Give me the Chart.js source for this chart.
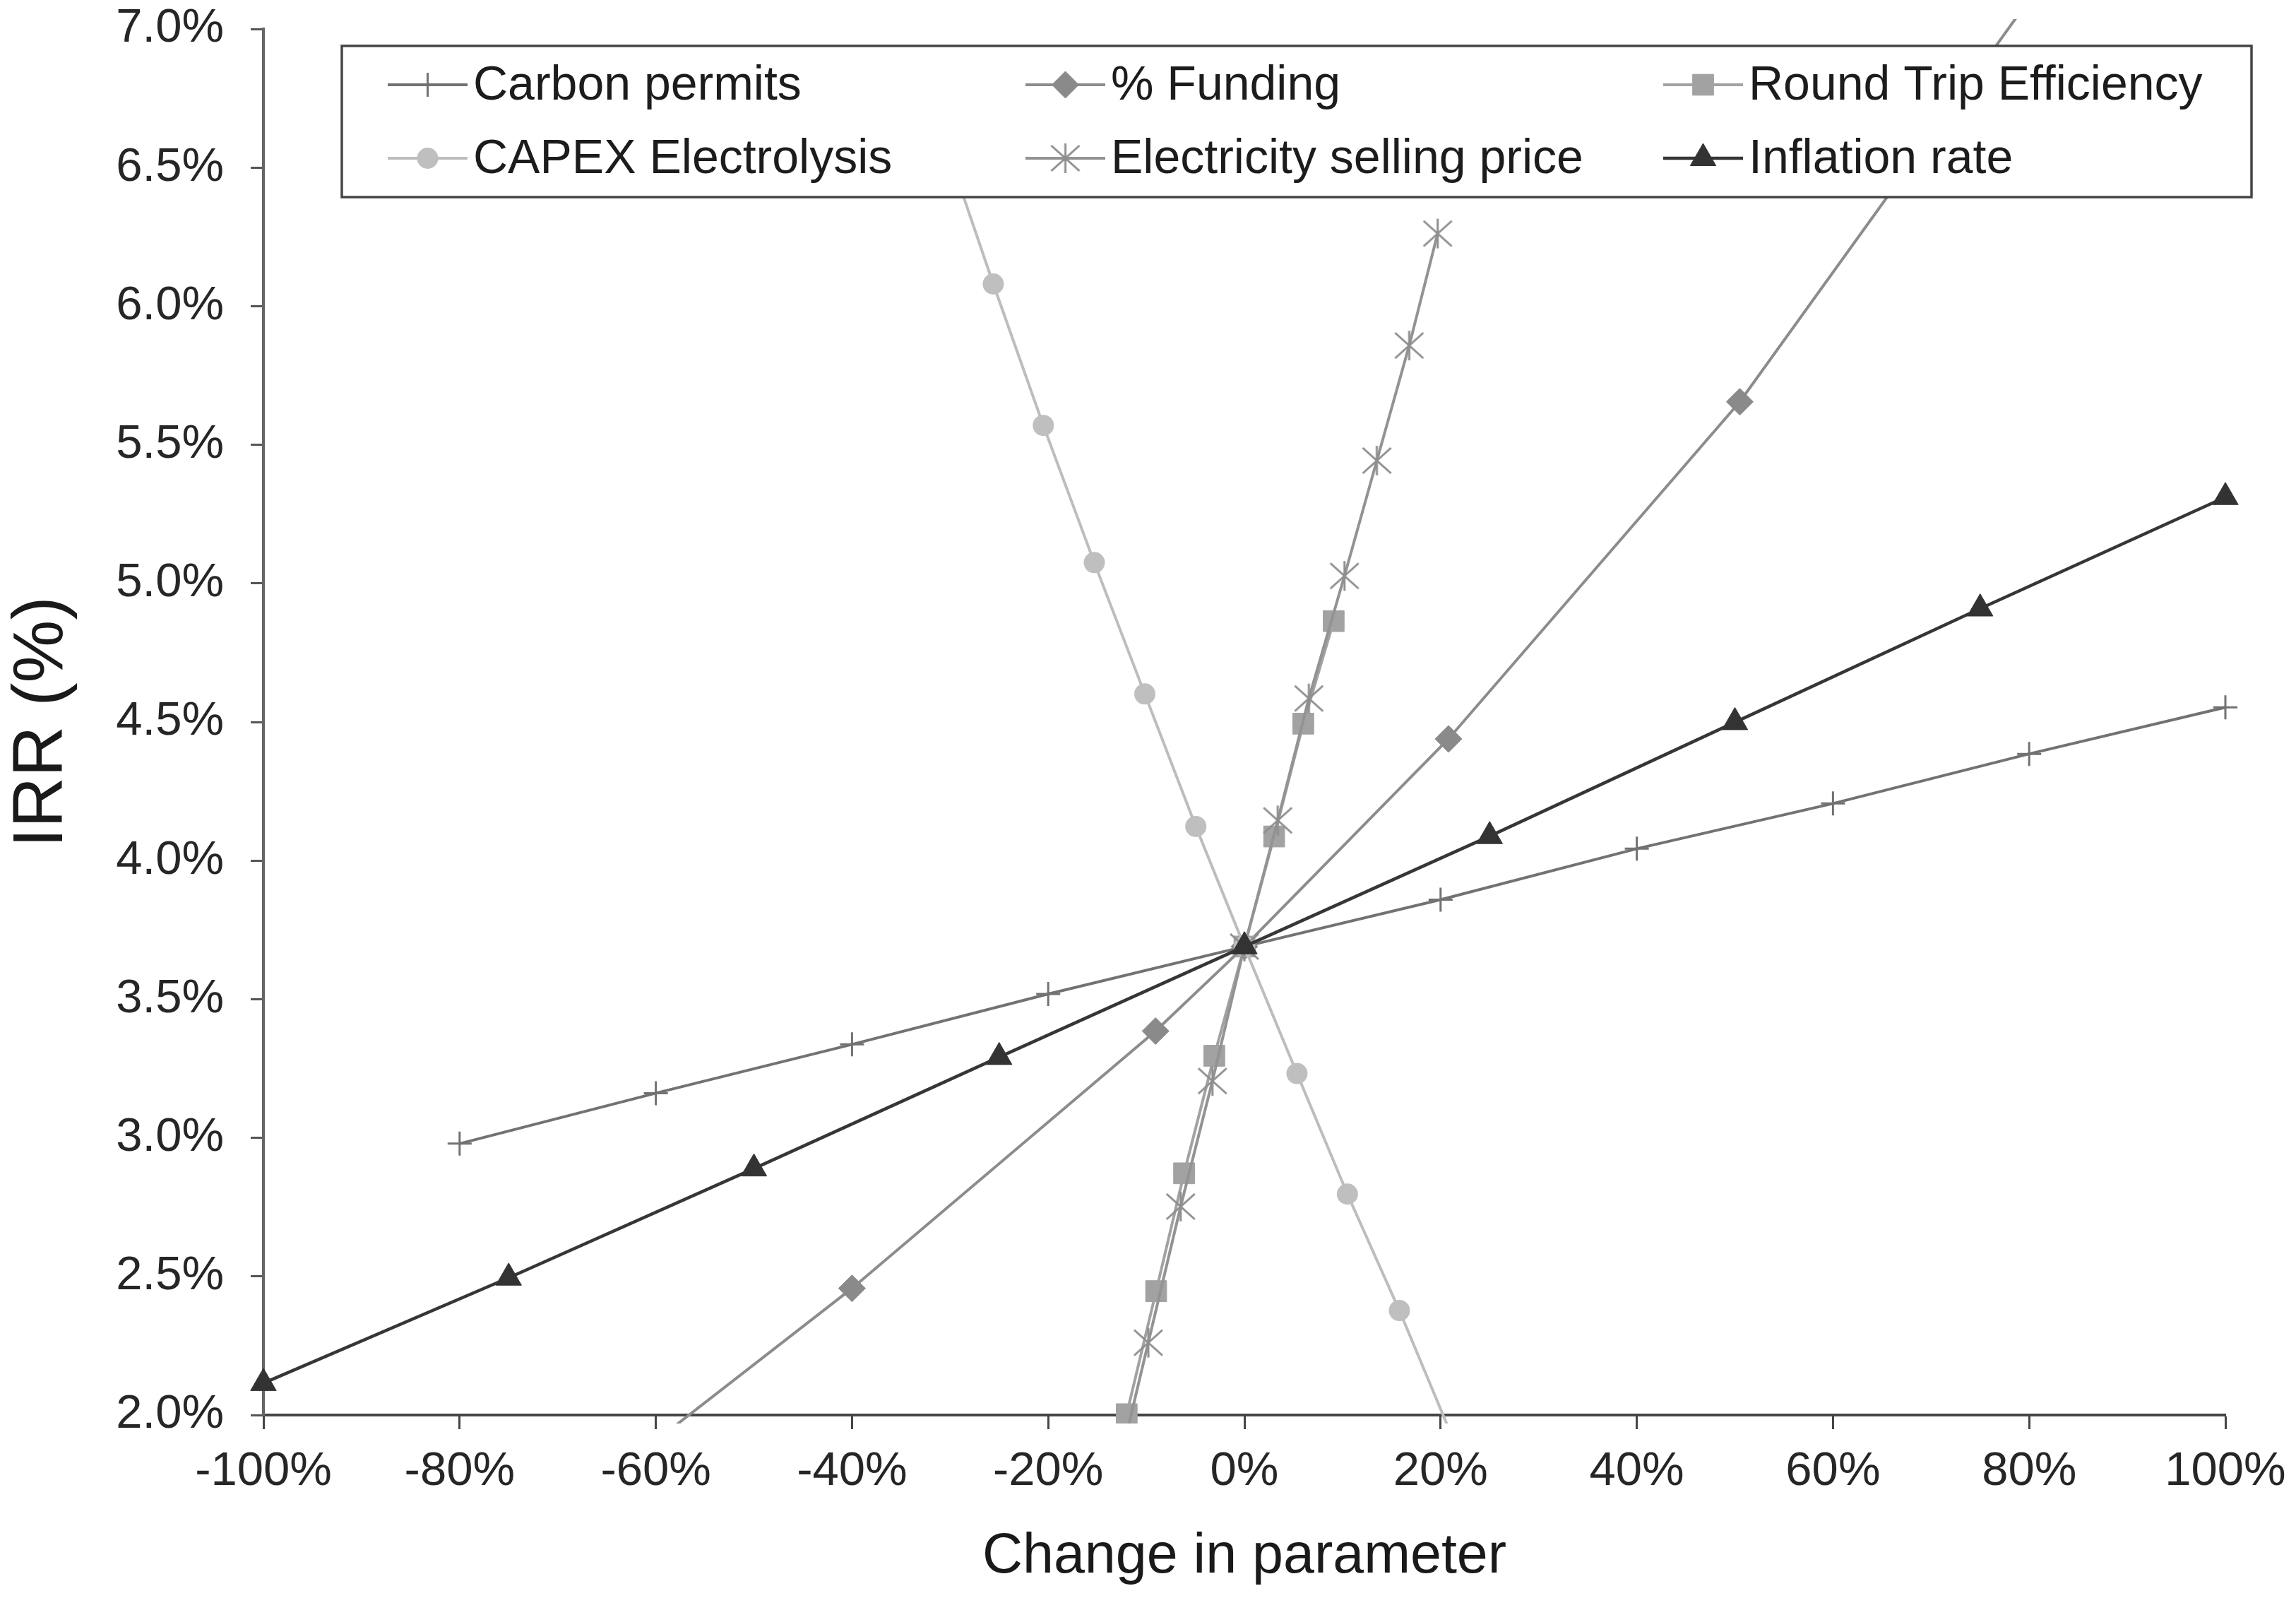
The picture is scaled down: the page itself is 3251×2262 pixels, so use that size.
<!DOCTYPE html>
<html>
<head>
<meta charset="utf-8">
<script src="https://cdn.jsdelivr.net/npm/chart.js@4.4.1/dist/chart.umd.min.js"></script>
<style>
html,body{margin:0;padding:0;background:#ffffff;}
#wrap{width:3251px;height:2262px;position:relative;}
</style>
</head>
<body>
<div id="wrap"><canvas id="c"></canvas></div>
<script>
// ---------- data ----------
const seriesNames = ['Carbon permits', '% Funding', 'Round Trip Efficiency',
                     'CAPEX Electrolysis', 'Electricity selling price', 'Inflation rate'];

const carbonX  = [-80, -60, -40, -20, 0, 20, 40, 60, 80, 100];
const carbonY  = [2.979, 3.161, 3.337, 3.519, 3.69, 3.859, 4.043, 4.206, 4.385, 4.553];

const fundingX = [-60, -40, -9.06, 0, 20.8, 50.5, 80.5];
const fundingY = [1.907, 2.457, 3.385, 3.69, 4.439, 5.655, 7.13];

const rteX     = [-12, -9, -6.15, -3.07, 0, 3.03, 6.0, 9.1];
const rteY     = [2.003, 2.447, 2.872, 3.296, 3.69, 4.087, 4.494, 4.864];

const capexX   = [-30.8, -25.6, -20.5, -15.3, -10.15, -4.95, 0, 5.36, 10.5, 15.8, 21.2];
const capexY   = [6.62, 6.08, 5.57, 5.075, 4.601, 4.123, 3.69, 3.232, 2.797, 2.377, 1.92];

const espX     = [-13.1, -9.8, -6.5, -3.26, 0, 3.4, 6.57, 10.2, 13.5, 16.8, 19.7];
const espY     = [1.77, 2.261, 2.752, 3.205, 3.69, 4.145, 4.585, 5.027, 5.443, 5.858, 6.262];

const inflX    = [-100, -75, -50, -25, 0, 25, 50, 75, 100];
const inflY    = [2.115, 2.495, 2.889, 3.291, 3.69, 4.088, 4.499, 4.909, 5.311];

const xTickValues = [-100, -80, -60, -40, -20, 0, 20, 40, 60, 80, 100];
const xTickLabels = ['-100%', '-80%', '-60%', '-40%', '-20%', '0%', '20%', '40%', '60%', '80%', '100%'];
const yTickValues = [2.0, 2.5, 3.0, 3.5, 4.0, 4.5, 5.0, 5.5, 6.0, 6.5, 7.0];
const yTickLabels = ['2.0%', '2.5%', '3.0%', '3.5%', '4.0%', '4.5%', '5.0%', '5.5%', '6.0%', '6.5%', '7.0%'];

const xTitle = 'Change in parameter';
const yTitle = 'IRR (%)';

// ---------- styling ----------
const FONT = '"Liberation Sans", Arial, Helvetica, sans-serif';

function makeAsterisk(color) {
  const c = document.createElement('canvas');
  c.width = 46; c.height = 44;
  const g = c.getContext('2d');
  g.strokeStyle = color; g.lineWidth = 3; g.lineCap = 'butt';
  g.beginPath();
  g.moveTo(23, 1); g.lineTo(23, 43);
  g.moveTo(3, 4); g.lineTo(43, 40);
  g.moveTo(43, 4); g.lineTo(3, 40);
  g.stroke();
  return c;
}
const asterisk = makeAsterisk('#8e8e8e');

function pts(xs, ys) { return xs.map((x, i) => ({x: x, y: ys[i]})); }

const clipBox = {left: 30, top: 14, right: 30, bottom: 12};

const datasets = [
  {label: seriesNames[0], data: pts(carbonX, carbonY), borderColor: '#727272', backgroundColor: '#727272',
   borderWidth: 4, pointStyle: 'cross', pointRadius: 17, pointBorderWidth: 3, order: 6},
  {label: seriesNames[1], data: pts(fundingX, fundingY), borderColor: '#8c8c8c', backgroundColor: '#8a8a8a',
   borderWidth: 4, pointStyle: 'rectRot', pointRadius: 19, pointBorderWidth: 1, order: 5},
  {label: seriesNames[2], data: pts(rteX, rteY), borderColor: '#a2a2a2', backgroundColor: '#a2a2a2',
   borderWidth: 4, pointStyle: 'rect', pointRadius: 21, pointBorderWidth: 1, order: 4},
  {label: seriesNames[3], data: pts(capexX, capexY), borderColor: '#bdbdbd', backgroundColor: '#bfbfbf',
   borderWidth: 4, pointStyle: 'circle', pointRadius: 14, pointBorderWidth: 2, order: 3},
  {label: seriesNames[4], data: pts(espX, espY), borderColor: '#939393', backgroundColor: '#939393',
   borderWidth: 4, pointStyle: asterisk, pointRadius: 20, pointBorderWidth: 3, order: 2},
  {label: seriesNames[5], data: pts(inflX, inflY), borderColor: '#363636', backgroundColor: '#333333',
   borderWidth: 4.5, pointStyle: 'triangle', pointRadius: 21, pointBorderWidth: 1, order: 1}
].map(d => Object.assign(d, {
  showLine: true, fill: false, tension: 0, clip: clipBox,
  pointBackgroundColor: d.backgroundColor, pointBorderColor: d.backgroundColor
}));

// ---------- legend drawn inside the plot ----------
const legendBox = {x: 484, y: 65, w: 2704, h: 214};
const legendTextX = [670, 1573, 2476];
const legendRowY = [120, 224];

function drawMarker(ctx, ds, x, y) {
  ctx.fillStyle = ds.pointBackgroundColor;
  ctx.strokeStyle = ds.pointBorderColor;
  ctx.lineWidth = ds.pointBorderWidth;
  if (window.Chart && Chart.helpers && Chart.helpers.drawPoint) {
    Chart.helpers.drawPoint(ctx, {pointStyle: ds.pointStyle, rotation: 0,
      radius: ds.pointRadius, borderWidth: ds.pointBorderWidth}, x, y);
  } else if (typeof ds.pointStyle === 'object') {
    ctx.drawImage(ds.pointStyle, x - ds.pointStyle.width / 2, y - ds.pointStyle.height / 2);
  } else {
    ctx.beginPath(); ctx.arc(x, y, ds.pointRadius, 0, Math.PI * 2); ctx.fill();
  }
}

const boxLegend = {
  id: 'boxLegend',
  afterDatasetsDraw(chart) {
    const ctx = chart.ctx;
    ctx.save();
    ctx.fillStyle = '#ffffff';
    ctx.fillRect(legendBox.x, legendBox.y, legendBox.w, legendBox.h);
    ctx.lineWidth = 3.5;
    ctx.strokeStyle = '#454545';
    ctx.strokeRect(legendBox.x, legendBox.y, legendBox.w, legendBox.h);
    chart.data.datasets.forEach((ds, i) => {
      const col = i % 3, row = Math.floor(i / 3);
      const tx = legendTextX[col], y = legendRowY[row];
      const lx0 = tx - 121, lx1 = tx - 8;
      ctx.strokeStyle = ds.borderColor;
      ctx.lineWidth = ds.borderWidth;
      ctx.beginPath(); ctx.moveTo(lx0, y); ctx.lineTo(lx1, y); ctx.stroke();
      drawMarker(ctx, ds, (lx0 + lx1) / 2, y);
      ctx.fillStyle = '#1c1c1c';
      ctx.font = '68px ' + FONT;
      ctx.textAlign = 'left';
      ctx.textBaseline = 'middle';
      ctx.fillText(ds.label, tx, y + 2);
    });
    ctx.restore();
  }
};

// ---------- chart ----------
new Chart(document.getElementById('c'), {
  type: 'line',
  data: {datasets: datasets},
  plugins: [boxLegend],
  options: {
    responsive: true,
    maintainAspectRatio: false,
    devicePixelRatio: 1,
    animation: false,
    events: [],
    layout: {padding: {left: 0, top: 41, right: 100, bottom: 0}},
    plugins: {legend: {display: false}, tooltip: {enabled: false}, title: {display: false}},
    scales: {
      x: {
        type: 'linear', min: -100, max: 100,
        afterBuildTicks: s => { s.ticks = xTickValues.map(v => ({value: v})); },
        afterFit: s => { s.height = 259; s.paddingLeft = 0; s.paddingRight = 0; },
        ticks: {
          callback: (v, i) => xTickLabels[i],
          font: {family: FONT, size: 67, lineHeight: 1.2},
          color: '#262626', padding: 20, maxRotation: 0, autoSkip: false
        },
        grid: {drawOnChartArea: false, drawTicks: true, tickLength: 20, tickWidth: 3, tickColor: '#454545'},
        border: {display: true, color: '#454545', width: 4},
        title: {display: true, text: xTitle, color: '#1a1a1a',
                font: {family: FONT, size: 79, lineHeight: 1.2}, padding: {top: 0, bottom: 10}}
      },
      y: {
        type: 'linear', min: 2, max: 7,
        afterBuildTicks: s => { s.ticks = yTickValues.map(v => ({value: v})); },
        afterFit: s => { s.width = 373; s.paddingTop = 0; s.paddingBottom = 0; },
        ticks: {
          callback: (v, i) => yTickLabels[i],
          font: {family: FONT, size: 67, lineHeight: 1.0},
          color: '#262626', padding: 38, autoSkip: false
        },
        grid: {drawOnChartArea: false, drawTicks: true, tickLength: 18, tickWidth: 3, tickColor: '#555555'},
        border: {display: true, color: '#666666', width: 4},
        title: {display: true, text: yTitle, color: '#1a1a1a',
                font: {family: FONT, size: 100, lineHeight: 1.2}, padding: {top: 0, bottom: 0}}
      }
    }
  }
});
</script>
</body>
</html>
